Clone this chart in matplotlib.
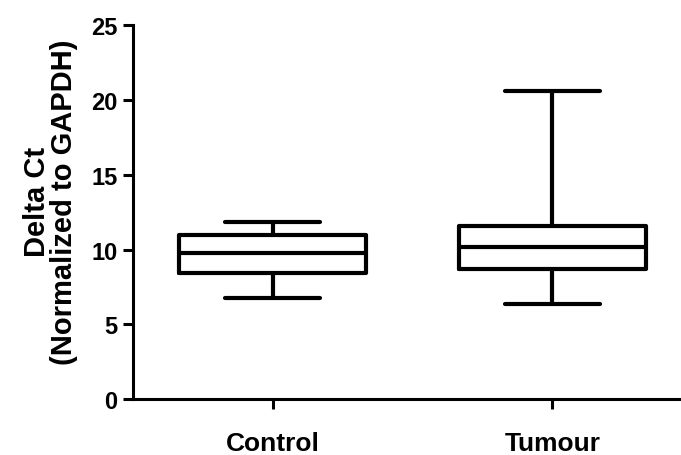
import matplotlib.pyplot as plt

plt.rcParams['font.family'] = ['Liberation Sans', 'DejaVu Sans']
plt.rcParams['font.weight'] = 'bold'

# valores
grupos = ['Control', 'Tumour']
minimos = [6.76, 6.36]
q1 = [8.43, 8.70]
medianas = [9.75, 10.19]
q3 = [10.98, 11.60]
maximos = [11.83, 20.64]

stats = []
for i in range(len(grupos)):
    stats.append({'label': grupos[i], 'whislo': minimos[i], 'q1': q1[i],
                  'med': medianas[i], 'q3': q3[i], 'whishi': maximos[i]})

fig = plt.figure(figsize=(6.81, 4.56), dpi=100)
ax = fig.add_axes([0.195, 0.123, 0.805, 0.819])

lw = 3
estilo = dict(linewidth=lw, color='black', solid_capstyle='round', solid_joinstyle='round')
ax.bxp(stats, positions=[1, 2], widths=0.67, capwidths=0.34, showfliers=False,
       boxprops=estilo, medianprops=estilo, whiskerprops=estilo, capprops=estilo)

ax.set_xlim(0.5, 2.46)
ax.set_ylim(0, 25)
ax.set_yticks([0, 5, 10, 15, 20, 25])
ax.set_xticks([1, 2])
ax.set_xticklabels(grupos)

for s in ['top', 'right']:
    ax.spines[s].set_visible(False)
for s in ['left', 'bottom']:
    ax.spines[s].set_linewidth(2.2)

ax.tick_params(axis='y', width=2.2, length=7, labelsize=17, pad=4)
ax.tick_params(axis='x', width=2.2, length=7, labelsize=19, pad=16)
ax.set_ylabel('Delta Ct\n(Normalized to GAPDH)', fontsize=21, fontweight='bold', linespacing=0.95)
ax.yaxis.set_label_coords(-0.1, 0.53)

fig.savefig('out.png', dpi=100)
